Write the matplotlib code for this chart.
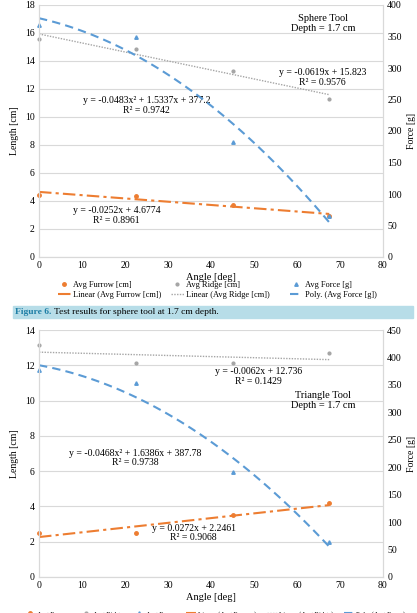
import numpy as np
import matplotlib
matplotlib.use('Agg')
import matplotlib.pyplot as plt

plt.rcParams['font.family'] = ['Liberation Serif', 'DejaVu Serif']

angles = [0, 22.5, 45, 67.5]

# sphere tool (top chart)
sph_furrow = [4.45, 4.35, 3.75, 2.9]
sph_ridge = [15.6, 14.85, 13.3, 11.3]
sph_force = [369, 350, 182, 65]
sph_eq = {
    'force': 'y = -0.0483x² + 1.5337x + 377.2\nR² = 0.9742',
    'ridge': 'y = -0.0619x + 15.823\nR² = 0.9576',
    'furrow': 'y = -0.0252x + 4.6774\nR² = 0.8961',
}

# triangle tool (bottom chart)
tri_furrow = [2.5, 2.5, 3.5, 4.18]
tri_ridge = [13.15, 12.15, 12.15, 12.68]
tri_force = [377, 354, 191, 64]
tri_eq = {
    'force': 'y = -0.0468x² + 1.6386x + 387.78\nR² = 0.9738',
    'ridge': 'y = -0.0062x + 12.736\nR² = 0.1429',
    'furrow': 'y = 0.0272x + 2.2461\nR² = 0.9068',
}

ORANGE = '#ED7D31'
GRAY = '#A5A5A5'
BLUE = '#5B9BD5'
GRID = '#D9D9D9'
FS = 7


def draw_chart(fig, rect, furrow, ridge, force, eq, ymax, fmax, tool, pos):
    ax = fig.add_axes(rect)
    ax2 = ax.twinx()
    x = np.array(angles)
    xx = np.linspace(0, 67.5, 100)

    h1, = ax.plot(x, furrow, 'o', color=ORANGE, ms=2.5, clip_on=False, label='Avg Furrow [cm]')
    h2, = ax.plot(x, ridge, 'o', color=GRAY, ms=2, clip_on=False, label='Avg Ridge [cm]')
    h3, = ax2.plot(x, force, '^', color=BLUE, ms=2.5, clip_on=False, label='Avg Force [g]')

    p = np.polyfit(x, furrow, 1)
    h4, = ax.plot(xx, np.polyval(p, xx), color=ORANGE, lw=1.5,
                  dashes=(6, 2, 1.5, 2), label='Linear (Avg Furrow [cm])')
    p = np.polyfit(x, ridge, 1)
    h5, = ax.plot(xx, np.polyval(p, xx), color=GRAY, lw=1, ls=(0, (1, 1)),
                  label='Linear (Avg Ridge [cm])')
    p = np.polyfit(x, force, 2)
    h6, = ax2.plot(xx, np.polyval(p, xx), color=BLUE, lw=1.5, ls=(0, (4, 2.5)),
                   label='Poly. (Avg Force [g])')

    ax.set_xlim(0, 80)
    ax.set_ylim(0, ymax)
    ax2.set_ylim(0, fmax)
    ax.set_xticks(range(0, 81, 10))
    ax.set_yticks(range(0, ymax + 1, 2))
    ax2.set_yticks(range(0, fmax + 1, 50))
    ax.grid(axis='y', color=GRID, lw=0.8)
    ax.set_axisbelow(True)
    for a in (ax, ax2):
        a.tick_params(length=0, labelsize=FS, pad=3)
        for s in a.spines.values():
            s.set_color(GRID)
        a.spines['top'].set_visible(False)
    ax.set_xlabel('Angle [deg]', fontsize=FS + 0.5, labelpad=2)
    ax.set_ylabel('Length [cm]', fontsize=FS, labelpad=4)
    ax2.set_ylabel('Force [g]', fontsize=FS, rotation=90, labelpad=4)

    ax.text(pos['force'][0], pos['force'][1], eq['force'], fontsize=FS, ha='center', va='center', linespacing=1.1)
    ax.text(pos['ridge'][0], pos['ridge'][1], eq['ridge'], fontsize=FS, ha='center', va='center', linespacing=1.1)
    ax.text(pos['furrow'][0], pos['furrow'][1], eq['furrow'], fontsize=FS, ha='center', va='center', linespacing=1.1)
    ax.text(pos['tool'][0], pos['tool'][1], tool, fontsize=FS + 0.5, ha='center', va='center', linespacing=1.1)
    return [h1, h4, h2, h5, h3, h6]


fig = plt.figure(figsize=(4.17, 6.13), dpi=100)
W, H = 417, 613

top_pos = {'force': (25, 10.8), 'ridge': (66, 12.8), 'furrow': (18, 2.95), 'tool': (66, 16.7)}
handles = draw_chart(fig, [39 / W, 1 - 257 / H, 344 / W, 252 / H],
                     sph_furrow, sph_ridge, sph_force, sph_eq, 18, 400,
                     'Sphere Tool\nDepth = 1.7 cm', top_pos)
# one legend per column, like the fixed-width columns of the original
for i, xpx in enumerate([58, 171, 290]):
    leg = fig.legend(handles=handles[2 * i:2 * i + 2], loc='center left',
                     bbox_to_anchor=(xpx / W, 1 - 290 / H), frameon=False,
                     fontsize=6, handlelength=1.5, handletextpad=0.3,
                     labelspacing=0.15, borderpad=0, borderaxespad=0)

# caption band
fig.patches.append(plt.Rectangle((13 / W, 1 - 318 / H), 400 / W, 12 / H,
                                 transform=fig.transFigure, color='#B7DDE8', zorder=0))
t = fig.text(15 / W, 1 - 312 / H, 'Figure 6.', fontsize=6.8, color='#1F7FA6',
             fontweight='bold', va='center')
fig.canvas.draw()
bb = t.get_window_extent()
fig.text(bb.x1 / W + 3 / W, 1 - 312 / H, 'Test results for sphere tool at 1.7 cm depth.',
         fontsize=6.8, va='center')

bot_pos = {'force': (22.3, 6.75), 'ridge': (51, 11.35), 'furrow': (36, 2.5), 'tool': (66, 10.0)}
handles = draw_chart(fig, [39 / W, 1 - 577 / H, 344 / W, 247 / H],
                     tri_furrow, tri_ridge, tri_force, tri_eq, 14, 450,
                     'Triangle Tool\nDepth = 1.7 cm', bot_pos)
labels = ['Avg Furrow', 'Linear (Avg Furrow)', 'Avg Ridge', 'Linear (Avg Ridge)',
          'Avg Force', 'Poly. (Avg Force)']
order = [0, 2, 4, 1, 3, 5]
fig.legend(handles=[handles[i] for i in order], labels=[labels[i] for i in order],
           ncol=6, loc='center', bbox_to_anchor=(215 / W, -1 / H),
           frameon=False, fontsize=5, handlelength=1.4, columnspacing=1.6,
           handletextpad=0.3, borderpad=0)

fig.savefig('out.png', dpi=100)
